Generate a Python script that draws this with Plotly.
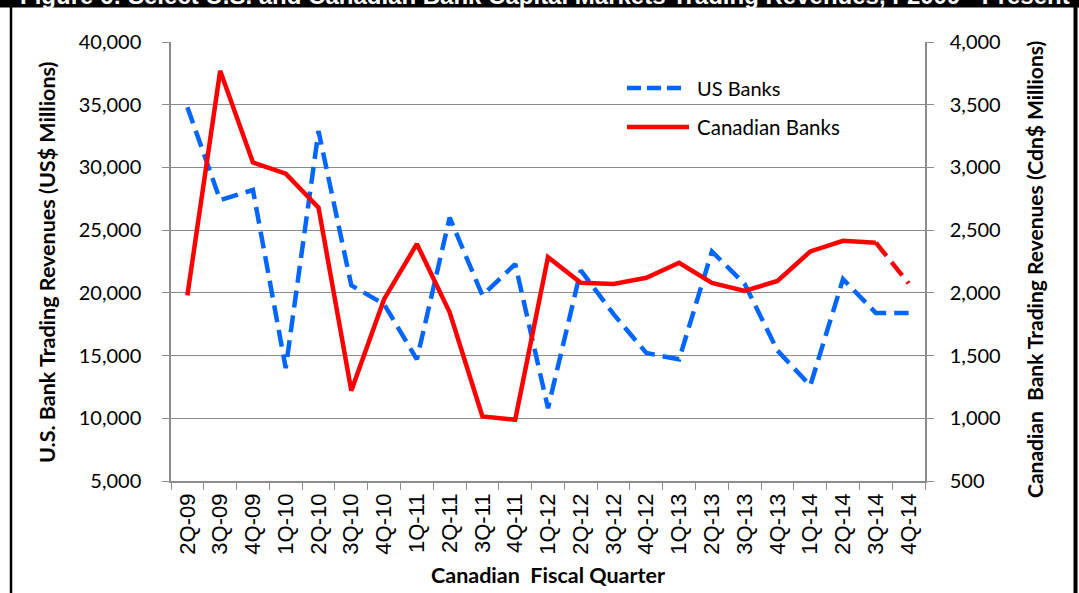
import plotly.graph_objects as go

# Canadian fiscal quarters on the category axis
quarters = ["2Q-09", "3Q-09", "4Q-09", "1Q-10", "2Q-10", "3Q-10", "4Q-10",
            "1Q-11", "2Q-11", "3Q-11", "4Q-11", "1Q-12", "2Q-12", "3Q-12",
            "4Q-12", "1Q-13", "2Q-13", "3Q-13", "4Q-13", "1Q-14", "2Q-14",
            "3Q-14", "4Q-14"]

# Trading revenues, US$ millions (left axis)
us_banks = [34800, 27400, 28200, 14000, 32900, 20600, 19100, 14700, 26000,
            19800, 22300, 10800, 21800, 18300, 15200, 14700, 23300, 20700,
            15400, 12600, 21100, 18400, 18400]

# Trading revenues, Cdn$ millions (right axis); last quarter is an estimate
canadian_banks = [1980, 3770, 3040, 2950, 2680, 1220, 1950, 2390, 1845, 1015,
                  988, 2285, 2080, 2070, 2120, 2240, 2080, 2015, 2095, 2330,
                  2415, 2400, 2075]

us_ticks = [5000, 10000, 15000, 20000, 25000, 30000, 35000, 40000]
cdn_ticks = [500, 1000, 1500, 2000, 2500, 3000, 3500, 4000]

W, H = 1079, 593
ML, MR, MT, MB = 171, 154, 42, 112
PW, PH = W - ML - MR, H - MT - MB


def px(x):
    return (x - ML) / PW


def py(y):
    return (H - MB - y) / PH


BLUE = "#0066FF"
RED = "#FF0000"
GRID = "#8C8C8C"
DASH = "17px,8px"
NUM_FONT = "Lato, 'Open Sans', sans-serif"

fig = go.Figure()

fig.add_trace(go.Scatter(
    x=quarters, y=us_banks, name="US Banks", mode="lines",
    line=dict(color=BLUE, width=4.5, dash=DASH), yaxis="y",
    showlegend=False,
))
fig.add_trace(go.Scatter(
    x=quarters[:22], y=canadian_banks[:22], name="Canadian Banks",
    mode="lines", line=dict(color=RED, width=4.5), yaxis="y2",
    showlegend=False,
))
fig.add_trace(go.Scatter(
    x=quarters[21:], y=canadian_banks[21:], name="Canadian Banks (est.)",
    mode="lines", line=dict(color=RED, width=4.5, dash=DASH), yaxis="y2",
    showlegend=False,
))

shapes = [
    # title band across the top
    dict(type="rect", xref="paper", yref="paper", x0=px(-10), x1=px(W + 10),
         y0=py(7.5), y1=py(-40), fillcolor="black", line_width=0,
         layer="above"),
    # frame edges
    dict(type="line", xref="paper", yref="paper", x0=px(11), x1=px(11),
         y0=py(H + 5), y1=py(-5), line=dict(color="black", width=2.5)),
    dict(type="line", xref="paper", yref="paper", x0=px(1075.5),
         x1=px(1075.5), y0=py(H + 5), y1=py(-5),
         line=dict(color="black", width=4)),
    # legend samples
    dict(type="line", xref="paper", yref="paper", x0=px(627), x1=px(686),
         y0=py(88), y1=py(88), line=dict(color=BLUE, width=4.5, dash="14px,6px")),
    dict(type="line", xref="paper", yref="paper", x0=px(627), x1=px(689),
         y0=py(127), y1=py(127), line=dict(color=RED, width=4.5)),
]

annotations = [
    dict(text="Figure 6: Select U.S. and Canadian Bank Capital Markets Trading "
              "Revenues, F2009 - Present",
         xref="paper", yref="paper", x=px(18), y=py(-5), xanchor="left",
         yanchor="middle", showarrow=False,
         font=dict(family="'Liberation Sans', Arial, sans-serif", size=24,
                   color="white", weight="bold")),
    dict(text="US Banks", xref="paper", yref="paper", x=px(695), y=py(88),
         xanchor="left", yanchor="middle", showarrow=False,
         font=dict(family=NUM_FONT, size=20, color="black")),
    dict(text="Canadian Banks", xref="paper", yref="paper", x=px(695),
         y=py(127), xanchor="left", yanchor="middle", showarrow=False,
         font=dict(family=NUM_FONT, size=20.5, color="black")),
    dict(text="U.S. Bank Trading Revenues (US$ Millions)", xref="paper",
         yref="paper", x=px(47), y=py(262), textangle=-90, showarrow=False,
         xanchor="center", yanchor="middle",
         font=dict(family=NUM_FONT, size=21.5, color="black", weight="bold")),
    dict(text="Canadian  Bank Trading Revenues (Cdn$ Millions)", xref="paper",
         yref="paper", x=px(1034), y=py(270), textangle=-90, showarrow=False,
         xanchor="center", yanchor="middle",
         font=dict(family=NUM_FONT, size=21, color="black", weight="bold")),
    dict(text="Canadian  Fiscal Quarter", xref="paper", yref="paper",
         x=px(548), y=py(575), showarrow=False, xanchor="center",
         yanchor="middle",
         font=dict(family=NUM_FONT, size=21.5, color="black", weight="bold")),
]

fig.update_layout(
    width=W, height=H,
    margin=dict(l=ML, r=MR, t=MT, b=MB, autoexpand=False),
    paper_bgcolor="white", plot_bgcolor="white",
    showlegend=False,
    shapes=shapes, annotations=annotations,
    xaxis=dict(
        type="category", categoryorder="array", categoryarray=quarters,
        range=[-0.5, len(quarters) - 0.5], tickangle=-90,
        ticks="outside", tickson="boundaries", ticklen=7, tickcolor=GRID,
        tickwidth=1.3, showline=True, linecolor=GRID, linewidth=1.5,
        showgrid=False, zeroline=False, ticklabelstandoff=2,
        tickfont=dict(family="'Liberation Sans', Arial, sans-serif", size=22,
                      color="black"),
    ),
    yaxis=dict(
        range=[5000, 40000], tickvals=us_ticks, tickformat=",",
        ticks="outside", ticklen=7, tickcolor=GRID, tickwidth=1.3,
        showline=True, linecolor=GRID, linewidth=1.5,
        showgrid=True, gridcolor=GRID, gridwidth=1.3, zeroline=False,
        ticklabelstandoff=17,
        tickfont=dict(family=NUM_FONT, size=20, color="black"),
    ),
    yaxis2=dict(
        range=[500, 4000], tickvals=cdn_ticks, tickformat=",",
        overlaying="y", side="right",
        ticks="outside", ticklen=7, tickcolor=GRID, tickwidth=1.3,
        showline=True, linecolor=GRID, linewidth=1.5,
        showgrid=False, zeroline=False, ticklabelstandoff=12,
        tickfont=dict(family=NUM_FONT, size=20, color="black"),
    ),
)

fig.write_html("out.html")
